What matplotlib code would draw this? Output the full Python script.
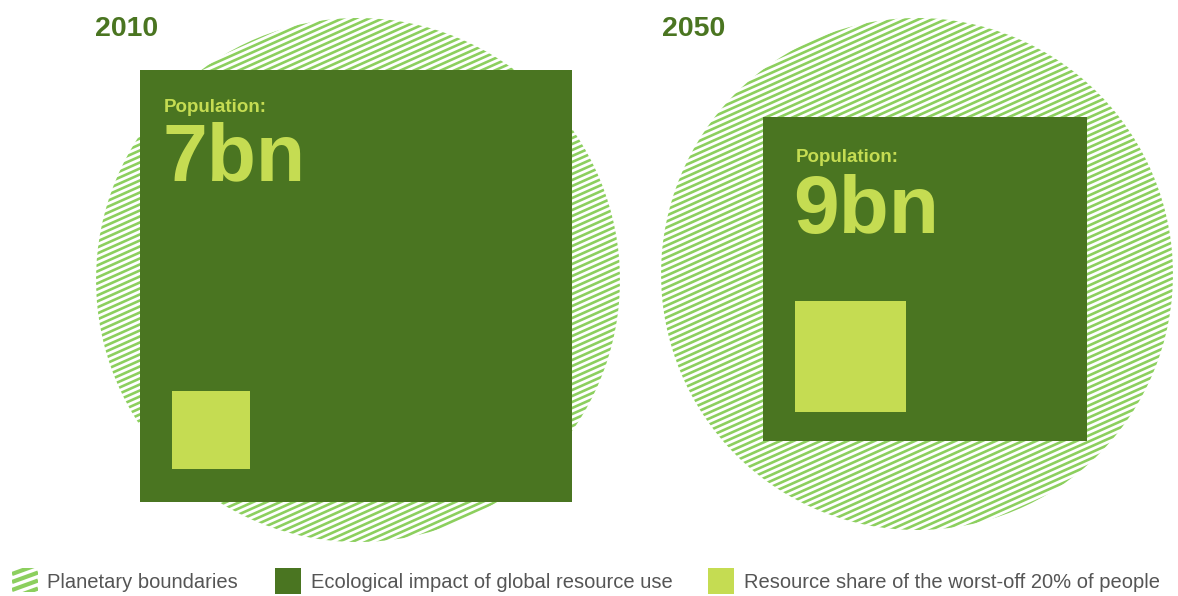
import numpy as np
import matplotlib.pyplot as plt
from matplotlib.patches import Circle, Rectangle
from matplotlib.collections import LineCollection

# chart values (pixel units of the original graphic)
years = ['2010', '2050']
population = ['7bn', '9bn']
boundary_radius = [262, 256]      # planetary boundaries circle
impact_side = [432, 324]          # ecological impact of global resource use
share_side = [78, 111]            # resource share of the worst-off 20%

legend_labels = ['Planetary boundaries',
                 'Ecological impact of global resource use',
                 'Resource share of the worst-off 20% of people']

DARK = '#4a7521'
LIGHT = '#c5dc52'
STRIPE = '#8ccf5e'
TEXT = '#555555'

plt.rcParams['font.family'] = ['Liberation Sans', 'DejaVu Sans']

fig = plt.figure(figsize=(11.78, 5.96), dpi=100)
ax = fig.add_axes([0, 0, 1, 1])
ax.set_xlim(0, 1178)
ax.set_ylim(596, 0)
ax.set_aspect('equal')
ax.axis('off')


def stripes(ax, clip, x0, y0, x1, y1, spacing=6.0, angle=24, lw=1.9):
    # diagonal lines rising to the right, clipped to a patch
    t = np.tan(np.radians(angle))
    segs = []
    span = (x1 - x0) * t
    for c in np.arange(y0 - 10, y1 + span + 10, spacing):
        segs.append([(x0, c), (x1, c - span)])
    lc = LineCollection(segs, colors=STRIPE, linewidths=lw, zorder=1)
    ax.add_collection(lc)
    lc.set_clip_path(clip)


centers = [(358, 280), (917, 274)]
square_tl = [(140, 70), (763, 117)]
small_tl = [(172, 391), (795, 301)]
year_pos = [(95, 29), (662, 29)]
label_pos = [(164, 108), (796, 158)]
number_pos = [(162, 159), (793, 212)]
number_size = [58, 59]

for i in range(len(years)):
    cx, cy = centers[i]
    r = boundary_radius[i]
    circ = Circle((cx, cy), r, facecolor='white', edgecolor='none', zorder=0)
    ax.add_patch(circ)
    stripes(ax, circ, cx - r, cy - r, cx + r, cy + r)

    sx, sy = square_tl[i]
    ax.add_patch(Rectangle((sx, sy), impact_side[i], impact_side[i],
                           facecolor=DARK, edgecolor='none', zorder=2))
    px, py = small_tl[i]
    ax.add_patch(Rectangle((px, py), share_side[i], share_side[i],
                           facecolor=LIGHT, edgecolor='none', zorder=3))

    ax.text(*year_pos[i], years[i], color=DARK, fontsize=20.5,
            fontweight='bold', va='center', ha='left')
    ax.text(*label_pos[i], 'Population:', color=LIGHT, fontsize=13.5,
            fontweight='bold', va='center', ha='left', zorder=4)
    ax.text(*number_pos[i], population[i], color=LIGHT,
            fontsize=number_size[i], fontweight='bold',
            va='center', ha='left', zorder=4)

# legend
ly = 580
icon = Rectangle((12, ly - 12), 26, 24, facecolor='white', edgecolor='none')
ax.add_patch(icon)
stripes(ax, icon, 12, ly - 12, 38, ly + 12, spacing=8, angle=20, lw=3)

fs = 14.5
ax.text(47, ly + 3, legend_labels[0], color=TEXT, fontsize=fs, va='center')
ax.add_patch(Rectangle((275, ly - 12), 26, 26, facecolor=DARK, edgecolor='none'))
ax.text(311, ly + 3, legend_labels[1], color=TEXT, fontsize=fs, va='center')
ax.add_patch(Rectangle((708, ly - 12), 26, 26, facecolor=LIGHT, edgecolor='none'))
ax.text(744, ly + 3, legend_labels[2], color=TEXT, fontsize=fs, va='center')

fig.savefig('out.png', dpi=100)
